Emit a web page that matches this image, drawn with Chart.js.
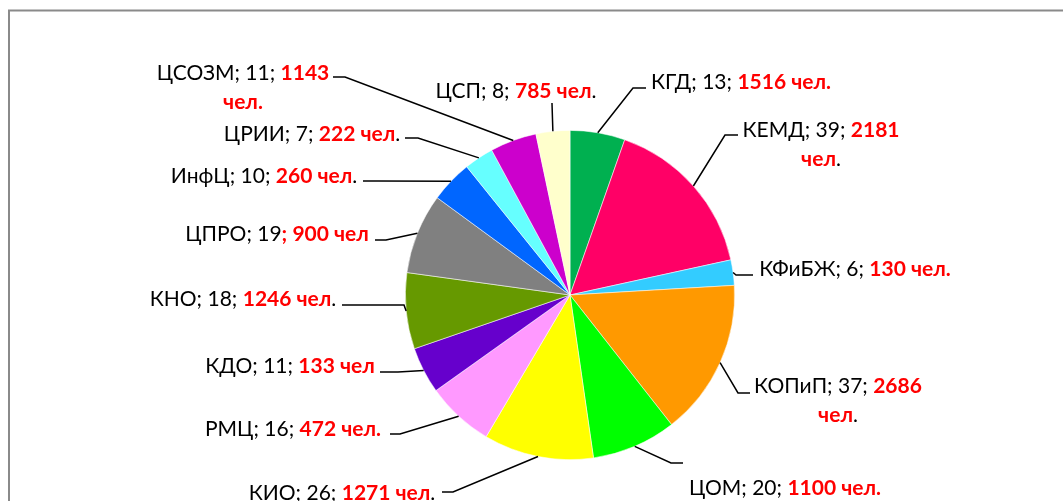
<!DOCTYPE html>
<html lang="ru">
<head>
<meta charset="utf-8">
<title>Подразделения</title>
<script src="https://cdn.jsdelivr.net/npm/chart.js@4.4.1/dist/chart.umd.min.js"></script>
<style>
  html, body { margin: 0; padding: 0; background: #fff; }
  #wrap { position: relative; width: 1063px; height: 501px; }
</style>
</head>
<body>
<div id="wrap"><canvas id="pieChart" width="1063" height="501"></canvas></div>
<script>
// data, clockwise from the top
var units  = ['КГД','КЕМД','КФиБЖ','КОПиП','ЦОМ','КИО','РМЦ','КДО','КНО','ЦПРО','ИнфЦ','ЦРИИ','ЦСОЗМ','ЦСП'];
var counts = [13, 39, 6, 37, 20, 26, 16, 11, 18, 19, 10, 7, 11, 8];
var people = [1516, 2181, 130, 2686, 1100, 1271, 472, 133, 1246, 900, 260, 222, 1143, 785];
var sliceColors = ['#00B050','#FF0066','#33CCFF','#FF9900','#00FF00','#FFFF00','#FF99FF',
                   '#6600CC','#669900','#808080','#0066FF','#66FFFF','#CC00CC','#FFFFCC'];
// how each label ends: 'r' red dot, 'b' black dot, '' nothing
var dotColor = ['r','b','r','b','r','b','r','','b','','b','b','r','b'];
// labels that wrap before "чел"
var wrapLabel = [false,true,false,true,false,false,false,false,false,false,false,false,true,false];

// label placement, offsets from the pie centre:
// [text centre x, cap centre y, stub x, stub y, elbow x, elbow y]
var labelPlace = [
  [ 171, -214,   76, -207,   63, -207],
  [ 251, -166,  168, -160,  155, -160],
  [ 285,  -27,  183,  -20,  166,  -20],
  [ 268,   90,  180,   98,  168,   98],
  [ 215,  192,  113,  168,  101,  168],
  [-228,  197, -128,  197, -117,  197],
  [-277,  133, -180,  139, -170,  139],
  [-280,   70, -190,   77, -172,   77],
  [-327,    3, -228,   10, -166,   10],
  [-293,  -62, -195,  -55, -184,  -55],
  [-306, -120, -207, -114, -192, -114],
  [-258, -162, -165, -157, -152, -157],
  [-327, -223, -237, -218, -225, -218],
  [ -54, -205,  -18, -192,  -18, -192]
];

var FONT = '21px Lato';
var FONT_B = 'bold 21px Lato';
var LINE_H = 29;

function labelLines(i) {
  var lines = [[]];
  var cur = lines[0];
  if (units[i] == 'ЦПРО') {
    cur.push({t: units[i] + '; ' + counts[i], red: false});
    cur.push({t: '; ' + people[i] + ' ', red: true});
  } else {
    cur.push({t: units[i] + '; ' + counts[i] + '; ', red: false});
    cur.push({t: people[i] + ' ', red: true});
  }
  if (wrapLabel[i]) {
    cur[cur.length - 1].t = cur[cur.length - 1].t.trim();
    cur = [];
    lines.push(cur);
  }
  cur.push({t: 'чел', red: true});
  if (dotColor[i]) cur.push({t: '.', red: dotColor[i] == 'r'});
  return lines;
}

// frame round the chart
var framePlugin = {
  id: 'frame',
  beforeDraw: function(chart) {
    var ctx = chart.ctx;
    ctx.save();
    ctx.fillStyle = '#fff';
    ctx.fillRect(0, 0, chart.width, chart.height);
    ctx.strokeStyle = '#8a8a8a';
    ctx.lineWidth = 2;
    ctx.strokeRect(9, 10.5, chart.width + 20, chart.height + 20);
    ctx.restore();
  }
};

// leader lines and two-colour labels
var labelPlugin = {
  id: 'leaderLabels',
  afterDatasetsDraw: function(chart) {
    var ctx = chart.ctx;
    var arcs = chart.getDatasetMeta(0).data;
    ctx.save();
    ctx.font = FONT;
    var capH = ctx.measureText('Н').actualBoundingBoxAscent;
    arcs.forEach(function(arc, i) {
      var p = arc.getProps(['x', 'y', 'startAngle', 'endAngle', 'outerRadius'], true);
      var mid = (p.startAngle + p.endAngle) / 2;
      var ax = p.x + Math.cos(mid) * p.outerRadius;
      var ay = p.y + Math.sin(mid) * p.outerRadius;
      var L = labelPlace[i];

      ctx.strokeStyle = '#000';
      ctx.lineWidth = 1.5;
      ctx.beginPath();
      ctx.moveTo(p.x + L[2], p.y + L[3]);
      ctx.lineTo(p.x + L[4], p.y + L[5]);
      ctx.lineTo(ax, ay);
      ctx.stroke();

      var lines = labelLines(i);
      var base = p.y + L[1] + capH / 2;
      lines.forEach(function(runs, k) {
        var total = 0;
        runs.forEach(function(r) {
          ctx.font = r.red ? FONT_B : FONT;
          r.w = ctx.measureText(r.t).width;
          total += r.w;
        });
        var x = p.x + L[0] - total / 2;
        ctx.textBaseline = 'alphabetic';
        ctx.textAlign = 'left';
        runs.forEach(function(r) {
          ctx.font = r.red ? FONT_B : FONT;
          ctx.fillStyle = r.red ? '#FF0000' : '#000000';
          ctx.fillText(r.t, x, base + k * LINE_H);
          x += r.w;
        });
      });
    });
    ctx.restore();
  }
};

new Chart(document.getElementById('pieChart'), {
  type: 'pie',
  data: {
    labels: units,
    datasets: [{
      data: counts,
      backgroundColor: sliceColors,
      borderColor: 'rgba(255,255,255,0.7)',
      borderWidth: 0.75
    }]
  },
  options: {
    responsive: false,
    animation: false,
    layout: {
      padding: { top: 130, bottom: 41, left: 405, right: 328 }
    },
    plugins: {
      legend: { display: false },
      tooltip: { enabled: false }
    }
  },
  plugins: [framePlugin, labelPlugin]
});
</script>
</body>
</html>
